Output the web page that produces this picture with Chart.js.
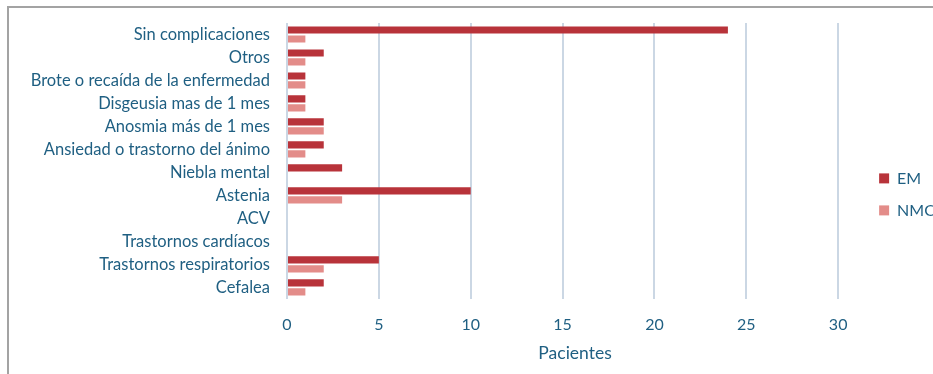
<!DOCTYPE html>
<html>
<head>
<meta charset="utf-8">
<script src="https://cdn.jsdelivr.net/npm/chart.js@4/dist/chart.umd.min.js"></script>
<style>
  html, body { margin: 0; padding: 0; background: #fff; }
  #wrap { position: relative; width: 933px; height: 374px; overflow: hidden; }
  #frame { position: absolute; left: 7px; top: 6px; width: 1000px; height: 500px; border: 2px solid #a3a3a3; box-sizing: border-box; }
  canvas { position: absolute; left: 0; top: 0; }
</style>
</head>
<body>
<div id="wrap">
  <div id="frame"></div>
  <canvas id="c" width="947" height="374"></canvas>
</div>
<script>
const categories = [
  "Sin complicaciones",
  "Otros",
  "Brote o recaída de la enfermedad",
  "Disgeusia mas de 1 mes",
  "Anosmia más de 1 mes",
  "Ansiedad o trastorno del ánimo",
  "Niebla mental",
  "Astenia",
  "ACV",
  "Trastornos cardíacos",
  "Trastornos respiratorios",
  "Cefalea"
];
const emValues  = [24, 2, 1, 1, 2, 2, 3, 10, 0, 0, 5, 2];
const nmoValues = [1, 1, 1, 1, 2, 1, 0, 3, 0, 0, 2, 1];
const xTicks = [0, 5, 10, 15, 20, 25, 30];
const seriesNames = ["EM", "NMO"];
const xTitle = "Pacientes";

const textColor = "#1f5f82";
const gridColor = "#cbd7e4";
const fontFamily = "Lato, 'Open Sans', sans-serif";

new Chart(document.getElementById("c"), {
  type: "bar",
  data: {
    labels: categories,
    datasets: [
      { label: seriesNames[0], data: emValues, backgroundColor: "#b8333a", categoryPercentage: 0.78, barPercentage: 0.8 },
      { label: seriesNames[1], data: nmoValues, backgroundColor: "#e38c89", categoryPercentage: 0.78, barPercentage: 0.8 }
    ]
  },
  options: {
    indexAxis: "y",
    responsive: false,
    animation: false,
    layout: { padding: { top: 23, right: 0, bottom: 10, left: 0 } },
    scales: {
      y: {
        grid: { display: false },
        border: { display: false },
        ticks: { color: textColor, font: { family: fontFamily, size: 16.5 }, padding: 9, autoSkip: false },
        afterFit: (s) => { s.width = 287; }
      },
      x: {
        min: 0,
        max: 31.36,
        afterBuildTicks: (s) => { s.ticks = xTicks.map(v => ({ value: v })); },
        grid: { color: gridColor, lineWidth: 2, drawTicks: false },
        border: { display: false },
        ticks: { color: textColor, font: { family: fontFamily, size: 16 }, padding: 16 },
        title: { display: true, text: xTitle, color: textColor, font: { family: fontFamily, size: 17.5 }, padding: { top: -7, bottom: 0 } }
      }
    },
    plugins: {
      legend: {
        position: "right",
        align: "start",
        title: { display: true, text: "", padding: { top: 117, bottom: 0 }, font: { size: 12 } },
        labels: { color: textColor, font: { family: fontFamily, size: 16 }, boxWidth: 10, boxHeight: 10, padding: 16 }
      },
      tooltip: { enabled: false }
    }
  }
});
</script>
</body>
</html>
